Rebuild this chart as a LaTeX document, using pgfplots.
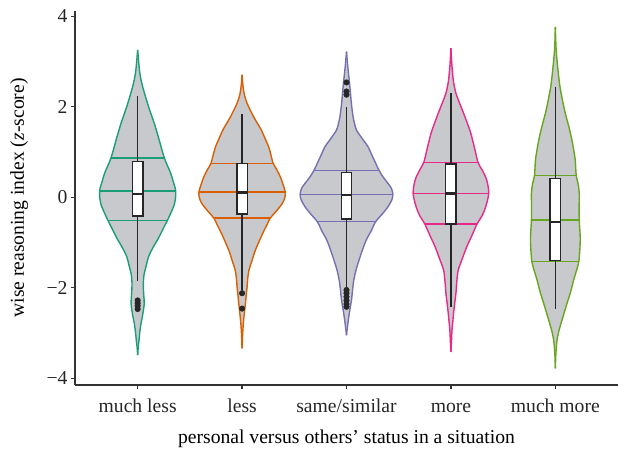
\documentclass[border=0pt]{standalone}
\usepackage{fontspec}
\setmainfont{Liberation Serif}
\usepackage{pgfplots}
\usepackage{pgfplotstable}
\pgfplotsset{compat=1.18}
\usepgfplotslibrary{statistics,fillbetween}
\definecolor{cA}{HTML}{1B9E77}
\definecolor{cB}{HTML}{D95F02}
\definecolor{cC}{HTML}{7570B3}
\definecolor{cD}{HTML}{E7298A}
\definecolor{cE}{HTML}{66A61E}
\definecolor{vfill}{RGB}{200,201,204}
\definecolor{axc}{RGB}{51,51,51}
\newcommand\lab{\fontsize{19.7}{23}\selectfont}

\pgfplotstableread{
y w
-3.49 0
-3.30 0.006
-3.16 0.013
-2.95 0.022
-2.79 0.032
-2.60 0.048
-2.35 0.063
-2.15 0.058
-1.90 0.054
-1.70 0.062
-1.54 0.079
-1.31 0.105
-1.09 0.152
-0.90 0.200
-0.65 0.254
-0.52 0.283
-0.35 0.317
-0.15 0.352
0.05 0.365
0.20 0.360
0.35 0.340
0.53 0.317
0.86 0.257
1.27 0.206
1.63 0.160
2.00 0.105
2.37 0.057
2.60 0.032
2.80 0.018
3.04 0.008
3.26 0
}\vA
\pgfplotstableread{
y w
-3.34 0
-3.00 0.006
-2.79 0.012
-2.55 0.022
-2.35 0.032
-2.15 0.040
-1.98 0.048
-1.80 0.054
-1.61 0.066
-1.40 0.095
-1.17 0.127
-0.80 0.197
-0.60 0.240
-0.46 0.270
-0.30 0.330
-0.13 0.387
0.00 0.410
0.12 0.413
0.30 0.390
0.46 0.365
0.62 0.330
0.75 0.298
0.95 0.275
1.12 0.254
1.30 0.220
1.49 0.184
1.78 0.111
2.08 0.048
2.30 0.019
2.50 0.007
2.71 0
}\vB
\pgfplotstableread{
y w
-3.05 0
-2.85 0.010
-2.64 0.022
-2.45 0.035
-2.27 0.048
-2.05 0.058
-1.83 0.070
-1.60 0.092
-1.39 0.120
-1.15 0.155
-0.94 0.190
-0.75 0.235
-0.54 0.279
-0.35 0.350
-0.21 0.397
-0.05 0.435
0.07 0.444
0.20 0.430
0.31 0.397
0.45 0.350
0.60 0.311
0.80 0.270
0.95 0.240
1.12 0.206
1.30 0.150
1.49 0.095
1.65 0.075
1.78 0.063
2.05 0.048
2.30 0.038
2.55 0.028
2.74 0.019
2.95 0.010
3.22 0
}\vC
\pgfplotstableread{
y w
-3.42 0
-3.15 0.006
-2.94 0.010
-2.75 0.018
-2.57 0.025
-2.35 0.036
-2.12 0.048
-1.85 0.057
-1.61 0.070
-1.35 0.110
-1.09 0.152
-0.85 0.200
-0.59 0.250
-0.40 0.300
-0.21 0.333
0.09 0.362
0.38 0.343
0.60 0.300
0.77 0.260
1.10 0.225
1.42 0.190
1.65 0.155
1.86 0.121
2.10 0.080
2.30 0.048
2.55 0.025
2.74 0.016
3.00 0.007
3.30 0
}\vD
\pgfplotstableread{
y w
-3.78 0
-3.50 0.004
-3.30 0.010
-3.16 0.016
-2.97 0.032
-2.79 0.054
-2.55 0.085
-2.35 0.111
-2.10 0.145
-1.83 0.175
-1.60 0.205
-1.42 0.225
-1.10 0.236
-0.87 0.238
-0.50 0.229
-0.20 0.228
0.09 0.229
0.30 0.218
0.48 0.200
0.83 0.190
1.10 0.172
1.34 0.152
1.60 0.125
1.86 0.095
2.15 0.068
2.45 0.044
2.82 0.025
3.19 0.010
3.45 0.004
3.77 0
}\vE

\pgfplotsset{
  bxs/.style={
    boxplot/draw direction=y,
    boxplot/box extend=0.1,
    boxplot/whisker extend=0,
    boxplot/every box/.style={draw=black!85, fill=white, line width=1.3bp},
    boxplot/every whisker/.style={draw=black!85, line width=1.3bp},
    boxplot/every median/.style={draw=black!85, line width=2.6bp},
    mark=*, mark size=2.8bp,
    mark options={fill=black!85, draw=black!85},
    draw=black!85
  },
  ql/.style={line width=1.25bp},
  vo/.style={line width=1.4bp, smooth, tension=0.5}
}

\begin{document}
\begin{tikzpicture}
\begin{axis}[
  at={(0,0)}, anchor=south west,
  scale only axis, width=543bp, height=374bp,
  xmin=0.4, xmax=5.6, ymin=-4.15, ymax=4.12,
  axis x line*=bottom, axis y line*=left,
  axis line style={axc, line width=1.2bp},
  tick style={axc, line width=1.2bp},
  tick align=outside, major tick length=4bp,
  xtick={1,2,3,4,5},
  xticklabels={much less, less, same/similar, more, much more},
  ytick={-4,-2,0,2,4},
  yticklabels={−4,−2,0,2,4},
  tick label style={font=\lab, text=black!85},
  xticklabel style={anchor=base, yshift=-23bp},
  yticklabel style={anchor=east},
  xlabel={personal versus others’ status in a situation},
  ylabel={wise reasoning index (\textit{z}-score)},
  label style={font=\lab, text=black},
  xlabel style={at={(axis description cs:0.5,0)}, anchor=base, yshift=-58bp},
  ylabel style={at={(axis description cs:-0.103,0.5)}, anchor=center},
]
% violin 1
\addplot[draw=none, name path=R1, smooth, tension=0.5] table[x expr=1+\thisrow{w}, y=y]{\vA};
\addplot[draw=none, name path=L1, smooth, tension=0.5] table[x expr=1-\thisrow{w}, y=y]{\vA};
\addplot[vfill] fill between[of=R1 and L1];
\addplot[cA, vo] table[x expr=1+\thisrow{w}, y=y]{\vA};
\addplot[cA, vo] table[x expr=1-\thisrow{w}, y=y]{\vA};
\addplot[cA, ql] coordinates {(0.744,0.87)(1.256,0.87)};
\addplot[cA, ql] coordinates {(0.638,0.14)(1.362,0.14)};
\addplot[cA, ql] coordinates {(0.717,-0.52)(1.283,-0.52)};
% violin 2
\addplot[draw=none, name path=R2, smooth, tension=0.5] table[x expr=2+\thisrow{w}, y=y]{\vB};
\addplot[draw=none, name path=L2, smooth, tension=0.5] table[x expr=2-\thisrow{w}, y=y]{\vB};
\addplot[vfill] fill between[of=R2 and L2];
\addplot[cB, vo] table[x expr=2+\thisrow{w}, y=y]{\vB};
\addplot[cB, vo] table[x expr=2-\thisrow{w}, y=y]{\vB};
\addplot[cB, ql] coordinates {(1.702,0.75)(2.298,0.75)};
\addplot[cB, ql] coordinates {(1.587,0.12)(2.413,0.12)};
\addplot[cB, ql] coordinates {(1.73,-0.46)(2.27,-0.46)};
% violin 3
\addplot[draw=none, name path=R3, smooth, tension=0.5] table[x expr=3+\thisrow{w}, y=y]{\vC};
\addplot[draw=none, name path=L3, smooth, tension=0.5] table[x expr=3-\thisrow{w}, y=y]{\vC};
\addplot[vfill] fill between[of=R3 and L3];
\addplot[cC, vo] table[x expr=3+\thisrow{w}, y=y]{\vC};
\addplot[cC, vo] table[x expr=3-\thisrow{w}, y=y]{\vC};
\addplot[cC, ql] coordinates {(2.689,0.60)(3.311,0.60)};
\addplot[cC, ql] coordinates {(2.556,0.07)(3.444,0.07)};
\addplot[cC, ql] coordinates {(2.721,-0.54)(3.279,-0.54)};
% violin 4
\addplot[draw=none, name path=R4, smooth, tension=0.5] table[x expr=4+\thisrow{w}, y=y]{\vD};
\addplot[draw=none, name path=L4, smooth, tension=0.5] table[x expr=4-\thisrow{w}, y=y]{\vD};
\addplot[vfill] fill between[of=R4 and L4];
\addplot[cD, vo] table[x expr=4+\thisrow{w}, y=y]{\vD};
\addplot[cD, vo] table[x expr=4-\thisrow{w}, y=y]{\vD};
\addplot[cD, ql] coordinates {(3.74,0.77)(4.26,0.77)};
\addplot[cD, ql] coordinates {(3.638,0.09)(4.362,0.09)};
\addplot[cD, ql] coordinates {(3.75,-0.59)(4.25,-0.59)};
% violin 5
\addplot[draw=none, name path=R5, smooth, tension=0.5] table[x expr=5+\thisrow{w}, y=y]{\vE};
\addplot[draw=none, name path=L5, smooth, tension=0.5] table[x expr=5-\thisrow{w}, y=y]{\vE};
\addplot[vfill] fill between[of=R5 and L5];
\addplot[cE, vo] table[x expr=5+\thisrow{w}, y=y]{\vE};
\addplot[cE, vo] table[x expr=5-\thisrow{w}, y=y]{\vE};
\addplot[cE, ql] coordinates {(4.8,0.48)(5.2,0.48)};
\addplot[cE, ql] coordinates {(4.771,-0.50)(5.229,-0.50)};
\addplot[cE, ql] coordinates {(4.775,-1.42)(5.225,-1.42)};
% boxplots
\addplot[bxs, boxplot prepared={draw position=1, lower whisker=-1.84, lower quartile=-0.41, median=0.07, upper quartile=0.79, upper whisker=2.23}]
  coordinates {(0,-2.28)(0,-2.34)(0,-2.40)(0,-2.47)};
\addplot[bxs, boxplot prepared={draw position=2, lower whisker=-2.05, lower quartile=-0.37, median=0.10, upper quartile=0.75, upper whisker=1.84}]
  coordinates {(0,-2.12)(0,-2.46)};
\addplot[bxs, boxplot prepared={draw position=3, lower whisker=-2.01, lower quartile=-0.48, median=0.05, upper quartile=0.55, upper whisker=2.00}]
  coordinates {(0,2.54)(0,2.34)(0,2.27)(0,-2.05)(0,-2.12)(0,-2.20)(0,-2.28)(0,-2.36)(0,-2.42)};
\addplot[bxs, boxplot prepared={draw position=4, lower whisker=-2.42, lower quartile=-0.59, median=0.09, upper quartile=0.74, upper whisker=2.30}]
  coordinates {};
\addplot[bxs, boxplot prepared={draw position=5, lower whisker=-2.46, lower quartile=-1.40, median=-0.55, upper quartile=0.42, upper whisker=2.45}]
  coordinates {};
\end{axis}
\pgfresetboundingbox
\path[use as bounding box] (-75bp,-68bp) rectangle (543bp,385bp);
\end{tikzpicture}
\end{document}
